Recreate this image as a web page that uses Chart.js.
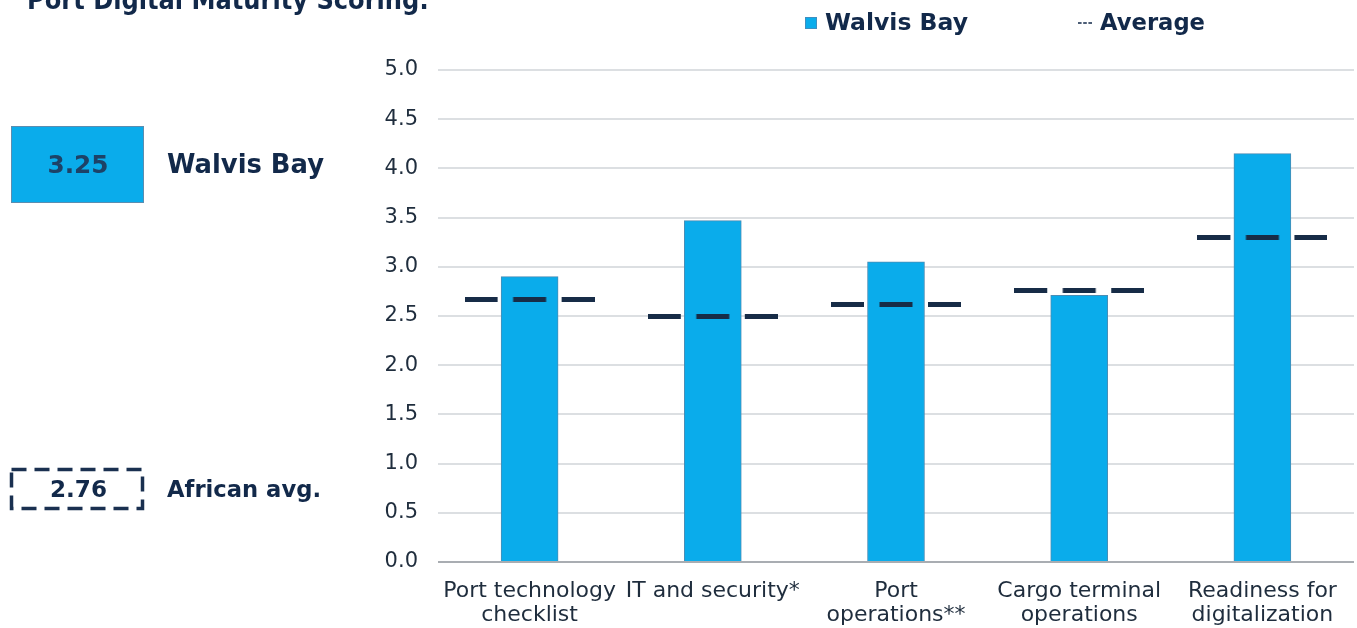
<!DOCTYPE html>
<html>
<head>
<meta charset="utf-8">
<script src="https://cdn.jsdelivr.net/npm/chart.js@4.4.1/dist/chart.umd.min.js"></script>
<style>
  html, body { margin: 0; padding: 0; background: #ffffff; }
  #wrap { position: relative; width: 1357px; height: 628px; overflow: hidden; }
  #c { position: absolute; left: 0; top: 0; }
  #overlay { position: absolute; left: 0; top: 0; pointer-events: none; }
  .b { font-family: 'DejaVu Sans', sans-serif; font-weight: bold; fill: #12294a; }
</style>
</head>
<body>
<div id="wrap">
  <canvas id="c" width="1357" height="628"></canvas>
  <svg id="overlay" width="1357" height="628" xmlns="http://www.w3.org/2000/svg">
    <text class="b" x="27" y="9" font-size="26" textLength="402" lengthAdjust="spacingAndGlyphs">Port Digital Maturity Scoring:</text>
    <!-- legend -->
    <rect x="805.5" y="17.5" width="11" height="11" fill="#0AACEB" stroke="#3f8fc0" stroke-width="1"/>
    <text class="b" x="825" y="30" font-size="23.5" textLength="143" lengthAdjust="spacingAndGlyphs">Walvis Bay</text>
    <line x1="1078" y1="23" x2="1092" y2="23" stroke="#12294a" stroke-width="1.6" stroke-dasharray="3.6 1.6"/>
    <text class="b" x="1100" y="30" font-size="23.5" textLength="105" lengthAdjust="spacingAndGlyphs">Average</text>
    <!-- left panel -->
    <rect x="11.5" y="126.5" width="132" height="76" fill="#0AACEB" stroke="#5b8db0" stroke-width="1"/>
    <text class="b" x="78" y="173" font-size="24" text-anchor="middle" style="fill:#1d4267" textLength="61" lengthAdjust="spacingAndGlyphs">3.25</text>
    <text class="b" x="167" y="173" font-size="26" textLength="157" lengthAdjust="spacingAndGlyphs">Walvis Bay</text>
    <rect x="11.5" y="469.5" width="131" height="39" fill="none" stroke="#1a3050" stroke-width="3.5" stroke-dasharray="15 8"/>
    <text class="b" x="78.5" y="497" font-size="23" text-anchor="middle" textLength="57" lengthAdjust="spacingAndGlyphs">2.76</text>
    <text class="b" x="167" y="497" font-size="23" textLength="154" lengthAdjust="spacingAndGlyphs">African avg.</text>
  </svg>
</div>
<script>
// ---- data ----
const categories = [
  ['Port technology', 'checklist'],
  'IT and security*',
  ['Port', 'operations**'],
  ['Cargo terminal', 'operations'],
  ['Readiness for', 'digitalization']
];
const walvisBay = [2.90, 3.47, 3.05, 2.71, 4.15];
const average   = [2.67, 2.50, 2.62, 2.76, 3.30];
const yTicks = [0, 0.5, 1, 1.5, 2, 2.5, 3, 3.5, 4, 4.5, 5];

// ---- styles ----
const FONT = "'DejaVu Sans', sans-serif";
const TEXT = '#1f2d3d';
const BAR = '#0AACEB';
const NAVY = '#172c47';

// dashed average marker used as point style
function makeDashMarker() {
  const cv = document.createElement('canvas');
  cv.width = 130; cv.height = 5;
  const g = cv.getContext('2d');
  g.fillStyle = NAVY;
  g.fillRect(0, 0, 33, 5);
  g.fillRect(48.5, 0, 33, 5);
  g.fillRect(97, 0, 33, 5);
  return cv;
}
const dashMarker = makeDashMarker();

new Chart(document.getElementById('c'), {
  data: {
    labels: categories,
    datasets: [
      {
        type: 'line',
        label: 'Average',
        data: average,
        showLine: false,
        pointStyle: dashMarker,
        pointRadius: 10,
        order: 0
      },
      {
        type: 'bar',
        label: 'Walvis Bay',
        data: walvisBay,
        backgroundColor: BAR,
        borderColor: '#4a8db5',
        borderWidth: 1,
        barThickness: 57,
        order: 1
      }
    ]
  },
  options: {
    responsive: false,
    animation: false,
    events: [],
    layout: { autoPadding: false, padding: { top: 70, right: 3, left: 0, bottom: 0 } },
    plugins: {
      legend: { display: false },
      title: { display: false },
      tooltip: { enabled: false }
    },
    scales: {
      x: {
        type: 'category',
        offset: true,
        afterFit: (scale) => { scale.height = 66; scale.paddingLeft = 0; scale.paddingRight = 0; },
        grid: { display: false, drawTicks: false },
        border: { display: false },
        ticks: {
          color: TEXT,
          font: { family: FONT, size: 22, lineHeight: 1.07 },
          padding: 18,
          maxRotation: 0,
          autoSkip: false
        }
      },
      y: {
        min: 0,
        max: 5,
        afterBuildTicks: (scale) => { scale.ticks = yTicks.map(v => ({ value: v })); },
        afterFit: (scale) => { scale.width = 438; },
        grid: {
          drawTicks: false,
          lineWidth: 2,
          color: (ctx) => (ctx.tick && ctx.tick.value === 0) ? '#a9adb2' : '#dcdfe2'
        },
        border: { display: false },
        ticks: {
          color: TEXT,
          padding: 20,
          font: { family: FONT, size: 21 },
          callback: (v) => Number(v).toFixed(1)
        }
      }
    }
  }
});
</script>
</body>
</html>
